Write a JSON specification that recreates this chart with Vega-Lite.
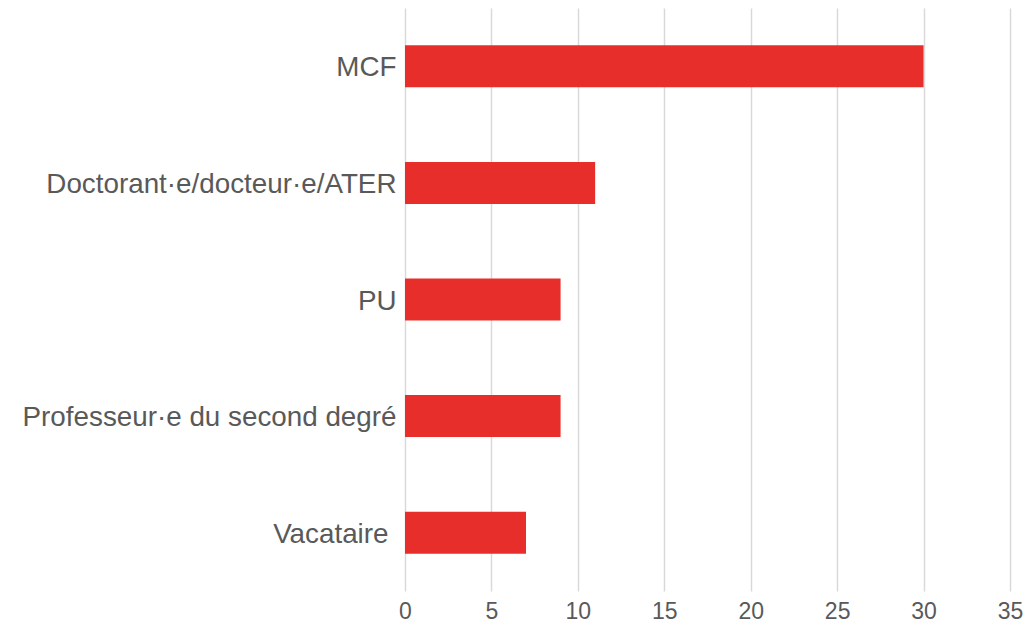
{
  "$schema": "https://vega.github.io/schema/vega-lite/v6.json",
  "autosize": {"type": "none"},
  "width": 605,
  "height": 583,
  "padding": {"left": 405, "top": 8, "right": 25, "bottom": 31},
  "background": "white",
  "data": {"values": [
    {"categorie": "MCF", "n": 30},
    {"categorie": "Doctorant·e/docteur·e/ATER", "n": 11},
    {"categorie": "PU", "n": 9},
    {"categorie": "Professeur·e du second degré", "n": 9},
    {"categorie": "Vacataire", "n": 7}
  ]},
  "mark": {"type": "bar", "color": "#E82E2A"},
  "encoding": {
    "y": {
      "field": "categorie", "type": "nominal", "sort": null,
      "scale": {"paddingInner": 0.64, "paddingOuter": 0.32},
      "axis": {"title": null, "domain": false, "ticks": false, "grid": false,
        "labelFont": "Liberation Sans", "labelFontSize": 27.8, "labelColor": "#595959",
        "labelPadding": {"condition": {"test": "datum.value === 'Vacataire'", "value": 17}, "value": 9},
        "labelLimit": 500, "labelOffset": 2}
    },
    "x": {
      "field": "n", "type": "quantitative",
      "scale": {"domain": [0, 35], "nice": false},
      "axis": {"title": null, "domain": false, "ticks": false, "values": [0,5,10,15,20,25,30,35],
        "grid": true, "gridColor": "#d9d9d9", "gridWidth": 1.5,
        "labelFont": "Liberation Sans", "labelFontSize": 23, "labelColor": "#595959",
        "labelPadding": 9, "labelFlush": false}
    }
  },
  "config": {"view": {"stroke": null}}
}
